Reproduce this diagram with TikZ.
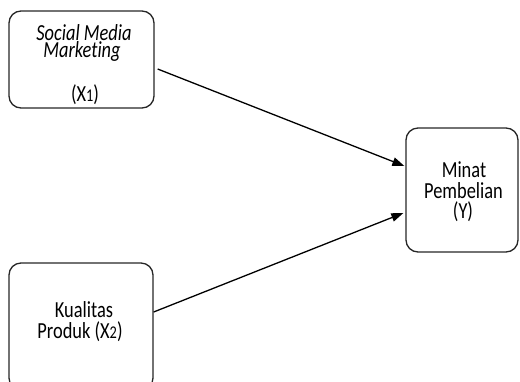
\documentclass[tikz,border=0pt]{standalone}
\usepackage{fontspec}
\setmainfont[Ligatures=NoCommon]{Carlito}
\usetikzlibrary{arrows.meta}
\newcommand{\tline}[1]{\scalebox{1}[1.25]{#1}}
\newcommand{\smalldig}[1]{\scalebox{0.78}{#1}}
\tikzset{
  box/.style={draw=black!85, line width=1.3pt, rounded corners=12pt, inner sep=0pt},
  txt/.style={anchor=base, inner sep=0pt, font=\fontsize{18.4}{20}\selectfont},
  conn/.style={draw=black, line width=1.3pt, -{Triangle[length=12pt,width=8.5pt]}}
}
\begin{document}
\begin{tikzpicture}[x=1pt,y=-1pt]
\useasboundingbox (0,0) rectangle (520,381);
\clip (0,0) rectangle (520,381);
% boxes
\node[box, minimum width=145pt, minimum height=97pt] (x1) at (81.5,59.5) {};
\node[box, minimum width=112pt, minimum height=124pt] (y) at (462,190) {};
\node[box, minimum width=144pt, minimum height=127pt] (x2) at (81,326.5) {};
% texts
\node[txt] (t1a) at (84,40) {\tline{\itshape Social Media}};
\node[txt] (t1b) at (82,57) {\tline{\itshape Marketing}};
\node[txt] (t1c) at (85,101) {\tline{(X\smalldig{1})}};
\node[txt] (t2a) at (464,177) {\tline{Minat}};
\node[txt] (t2b) at (463.5,198) {\tline{Pembelian}};
\node[txt] (t2c) at (463,218) {\tline{(Y)}};
\node[txt] (t3a) at (84,317) {\tline{Kualitas}};
\node[txt] (t3b) at (80,338) {\tline{Produk (X\smalldig{2})}};
% connectors
\coordinate (s1) at ([xshift=3pt,yshift=-9.5pt]x1.east);
\coordinate (e1) at ([xshift=-1pt,yshift=24pt]y.west);
\coordinate (s2) at ([xshift=0pt,yshift=14.5pt]x2.east);
\coordinate (e2) at ([xshift=-2pt,yshift=-23pt]y.west);
\draw[conn] (s1) -- (e1);
\draw[conn] (s2) -- (e2);
\end{tikzpicture}
\end{document}
